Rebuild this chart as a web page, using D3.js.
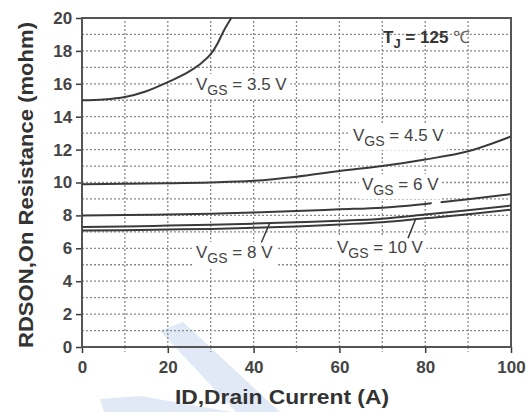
<!DOCTYPE html>
<html>
<head>
<meta charset="utf-8">
<script src="https://cdn.jsdelivr.net/npm/d3@7"></script>
<style>
  html, body { margin: 0; padding: 0; background: #fff; }
  svg { display: block; }
  text { font-family: "Liberation Sans", Arial, sans-serif; }
</style>
</head>
<body>
<svg id="chart" width="532" height="412"></svg>
<script>
// Drain current (A) sample points and RDS(on) (mohm) for each gate voltage
const idVgs35 = [0, 5, 10, 15, 20, 25, 28, 30, 31.5, 33, 34.8];
const rVgs35  = [15.0, 15.05, 15.2, 15.55, 16.1, 16.75, 17.3, 17.8, 18.4, 19.2, 20.0];

const idCommon = [0, 10, 20, 30, 40, 50, 60, 70, 80, 90, 100];
const rVgs45 = [9.9, 9.92, 9.95, 10.0, 10.1, 10.35, 10.7, 11.0, 11.4, 11.9, 12.8];
const rVgs6  = [8.0, 8.02, 8.06, 8.1, 8.18, 8.27, 8.37, 8.47, 8.7, 8.98, 9.3];
const rVgs8  = [7.3, 7.33, 7.38, 7.43, 7.5, 7.58, 7.67, 7.8, 8.05, 8.32, 8.6];
const rVgs10 = [7.08, 7.1, 7.14, 7.18, 7.25, 7.33, 7.45, 7.58, 7.82, 8.07, 8.35];

const vgsNames = ["3.5 V", "4.5 V", "6 V", "8 V", "10 V"];
const xTicks = [0, 20, 40, 60, 80, 100];
const yTicks = [0, 2, 4, 6, 8, 10, 12, 14, 16, 18, 20];
const xTitle = "ID,Drain Current (A)";
const yTitle = "RDSON,On Resistance (mohm)";

const svg = d3.select("#chart");
const x = d3.scaleLinear().domain([0, 100]).range([82, 511]);
const y = d3.scaleLinear().domain([0, 20]).range([347, 18]);

const ink = "#3a3a3a";
const gridCol = "#8a8a8a";

// faint background decoration
svg.append("g").attr("fill", "#dbe6f4").attr("opacity", 0.85)
  .selectAll("path")
  .data([
    "M160,331 L183,322 L280,412 L236,412 Z",
    "M100,399 L140,396 L232,412 L104,412 Z"
  ])
  .join("path").attr("d", d => d);

// grid
const grid = svg.append("g");
grid.selectAll("line.h")
  .data(d3.range(1, 20))
  .join("line")
  .attr("x1", x(0)).attr("x2", x(100))
  .attr("y1", d => y(d)).attr("y2", d => y(d))
  .attr("stroke", gridCol).attr("stroke-width", 1.3)
  .attr("stroke-dasharray", "2,2");
grid.selectAll("line.v")
  .data(d3.range(10, 100, 10))
  .join("line")
  .attr("x1", d => x(d)).attr("x2", d => x(d))
  .attr("y1", y(0)).attr("y2", y(20))
  .attr("stroke", gridCol).attr("stroke-width", 1.3)
  .attr("stroke-dasharray", "2,2");

// layer for the white boxes behind labels
const boxLayer = svg.append("g");

// axes
const xAxis = d3.axisBottom(x).tickValues(xTicks).tickSize(6).tickFormat(d3.format("d"));
const gx = svg.append("g").attr("transform", `translate(0,${y(0)})`).call(xAxis);
const yAxis = d3.axisLeft(y).tickValues(yTicks).tickSize(6).tickFormat(d3.format("d"));
const gy = svg.append("g").attr("transform", `translate(${x(0)},0)`).call(yAxis);
[gx, gy].forEach(g => {
  g.select(".domain").remove();
  g.selectAll(".tick line").attr("stroke", ink).attr("stroke-width", 1.5);
  g.selectAll(".tick text")
    .attr("fill", "#444").attr("font-size", 17).attr("font-weight", "bold")
    .attr("font-family", "Liberation Sans, Arial, sans-serif");
});
gx.selectAll(".tick text").attr("y", 10).attr("dy", "0.95em");
gy.selectAll(".tick text").attr("dx", "-0.05em");

// minor x ticks
svg.append("g").selectAll("line")
  .data(d3.range(10, 100, 20))
  .join("line")
  .attr("x1", d => x(d)).attr("x2", d => x(d))
  .attr("y1", y(0)).attr("y2", y(0) + 5)
  .attr("stroke", gridCol).attr("stroke-width", 1.2)
  .attr("stroke-dasharray", "2,2");

// plot frame
svg.append("rect")
  .attr("x", x(0)).attr("y", y(20))
  .attr("width", x(100) - x(0)).attr("height", y(0) - y(20))
  .attr("fill", "none").attr("stroke", "#555").attr("stroke-width", 2);

// curves
svg.append("clipPath").attr("id", "plotClip")
  .append("rect").attr("x", x(0)).attr("y", y(20) - 1)
  .attr("width", x(100) - x(0)).attr("height", y(0) - y(20) + 1);

const line = d3.line().x(d => x(d[0])).y(d => y(d[1])).curve(d3.curveMonotoneX);
const series = [
  d3.zip(idVgs35, rVgs35),
  d3.zip(idCommon, rVgs45),
  d3.zip(idCommon, rVgs6),
  d3.zip(idCommon, rVgs8),
  d3.zip(idCommon, rVgs10)
];
svg.append("g").attr("clip-path", "url(#plotClip)")
  .selectAll("path").data(series).join("path")
  .attr("d", line)
  .attr("fill", "none").attr("stroke", ink).attr("stroke-width", 2);

// small gap in the 6 V curve beneath its label
svg.append("rect").attr("x", x(81.5)).attr("y", y(8.95)).attr("width", 9).attr("height", 6).attr("fill", "#fff");

// pointer lines for 8 V and 10 V
svg.append("line").attr("x1", x(43.8)).attr("y1", y(7.55)).attr("x2", x(41.8)).attr("y2", y(6.35))
  .attr("stroke", ink).attr("stroke-width", 1.5);
svg.append("line").attr("x1", x(77.8)).attr("y1", y(7.8)).attr("x2", x(76)).attr("y2", y(6.62))
  .attr("stroke", ink).attr("stroke-width", 1.5);

// curve labels with white backing
function vgsLabel(px, py, value) {
  const t = svg.append("text").attr("x", px).attr("y", py)
    .attr("fill", "#444").attr("font-size", 17);
  t.append("tspan").text("V");
  t.append("tspan").attr("dy", 5).attr("font-size", 14).text("GS");
  t.append("tspan").attr("dy", -5).text(" = " + value);
  const b = t.node().getBBox();
  boxLayer.append("rect")
    .attr("x", b.x - 3).attr("y", b.y - 1)
    .attr("width", b.width + 6).attr("height", b.height + 2)
    .attr("fill", "#fff");
}
vgsLabel(196, 90, vgsNames[0]);
vgsLabel(353, 141, vgsNames[1]);
vgsLabel(362, 190, vgsNames[2]);
vgsLabel(196, 258, vgsNames[3]);
vgsLabel(337, 253, vgsNames[4]);

// junction temperature note
const tj = svg.append("text").attr("x", 383).attr("y", 43)
  .attr("fill", "#333").attr("font-size", 17).attr("font-weight", "bold");
tj.append("tspan").text("T");
tj.append("tspan").attr("dy", 5).attr("font-size", 13).text("J");
tj.append("tspan").attr("dy", -5).text(" = 125 ");
tj.append("tspan").attr("font-weight", "normal").attr("fill", "#666").text("℃");

// axis titles
svg.append("text").attr("x", 282).attr("y", 404)
  .attr("text-anchor", "middle").attr("fill", "#333")
  .attr("font-size", 21).attr("font-weight", "bold")
  .attr("textLength", 214).attr("lengthAdjust", "spacingAndGlyphs")
  .text(xTitle);
svg.append("text")
  .attr("transform", `translate(33,185) rotate(-90)`)
  .attr("text-anchor", "middle").attr("fill", "#333")
  .attr("font-size", 20).attr("font-weight", "bold")
  .attr("textLength", 326).attr("lengthAdjust", "spacingAndGlyphs")
  .text(yTitle);
</script>
</body>
</html>
